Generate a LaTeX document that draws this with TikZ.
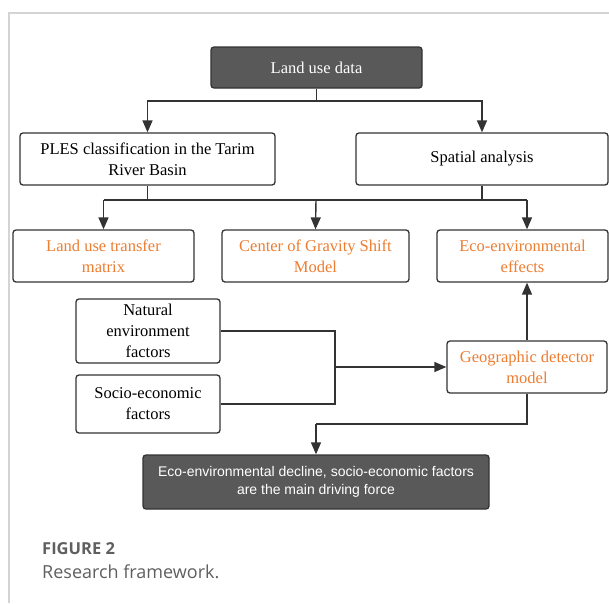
\documentclass[tikz,border=0pt]{standalone}
\usepackage{fontspec}
\setmainfont{Liberation Serif}
\setsansfont{Liberation Sans}
\newfontfamily\capfont{Open Sans}
\usetikzlibrary{positioning,arrows.meta}
\definecolor{boxorange}{RGB}{237,125,49}
\definecolor{boxdark}{RGB}{89,89,89}
\definecolor{boxline}{RGB}{51,51,51}
\definecolor{framegray}{RGB}{212,212,212}
\definecolor{capgray}{RGB}{95,95,95}
\tikzset{
plain box/.style={draw=boxline, line width=1.3pt, rounded corners=3pt, align=center, inner sep=0pt, fill=white, font=\fontsize{16.5}{21}\selectfont},
orange box/.style={plain box, text=boxorange},
dark box/.style={plain box, fill=boxdark, text=white},
link/.style={draw=boxline, line width=1.4pt},
flow/.style={link, -{Triangle[length=12pt,width=10pt]}}
}

\begin{document}
\begin{tikzpicture}[x=1pt,y=-1pt]
	\useasboundingbox (0,0) rectangle (609,603);
	\draw[framegray, line width=1.5pt] (9,603) -- (9,13) -- (609,13);

	\node[dark box, minimum width=211pt, minimum height=41pt] (land) at (316.5,67.5) {Land use data};
	\node[plain box, minimum width=255pt, minimum height=52pt] (ples) at (147.5,159) {PLES classification in the Tarim\\River Basin};
	\node[plain box, minimum width=252pt, minimum height=52pt] (spat) at (482,159) {Spatial analysis};

	\node[orange box, minimum width=181pt, minimum height=52pt] (lutm) at (103.5,256) {Land use transfer\\matrix};
	\node[orange box, minimum width=187pt, minimum height=52pt] (cog) at (315.5,256) {Center of Gravity Shift\\Model};
	\node[orange box, minimum width=171pt, minimum height=52pt] (eco) at (522.5,256) {Eco-environmental\\effects};

	\node[plain box, minimum width=144pt, minimum height=64pt] (nat) at (148,331) {Natural\\environment\\factors};
	\node[plain box, minimum width=144pt, minimum height=58pt] (soc) at (148,404) {Socio-economic\\factors};
	\node[orange box, minimum width=160pt, minimum height=52pt] (geo) at (527,367) {Geographic detector\\model};

	\node[dark box, minimum width=346pt, minimum height=54pt, font=\sffamily\fontsize{14}{18}\selectfont] (end) at (316,482) {Eco-environmental decline, socio-economic factors\\are the main driving force};

	\coordinate (s1) at (316.5,101);
	\coordinate (s2) at (316,200);
	\coordinate (j) at (335,367);
	\coordinate (s3) at (316,424);

	\draw[link] (land.south) -- (s1);
	\draw[flow] (s1) -| (ples.north);
	\draw[flow] (s1) -| (spat.north);

	\draw[link] (ples.south) |- (s2) (spat.south) |- (s2);
	\draw[link] (s2 -| lutm.north) -- (s2 -| geo.north);
	\draw[flow] (s2 -| lutm.north) -- (lutm.north);
	\draw[flow] (s2) -- (cog.north);
	\draw[flow] (s2 -| geo.north) -- (geo.north |- eco.north);

	\draw[link] (nat.east) -| (j) (soc.east) -| (j);
	\draw[flow] (j) -- (geo.west);
	\draw[flow] (geo.north) -- (geo.north |- eco.south);

	\draw[link] (geo.south) |- (s3);
	\draw[flow] (s3) -- (end.north);

	\node[anchor=base west, text=capgray, font=\capfont\bfseries\fontsize{16.5}{20}\selectfont, inner sep=0pt] (fig) at (42,554) {FIGURE 2};
	\node[anchor=base west, text=capgray, font=\capfont\fontsize{18}{20}\selectfont, inner sep=0pt] (cap) at (42,578) {Research framework.};
\end{tikzpicture}
\end{document}
